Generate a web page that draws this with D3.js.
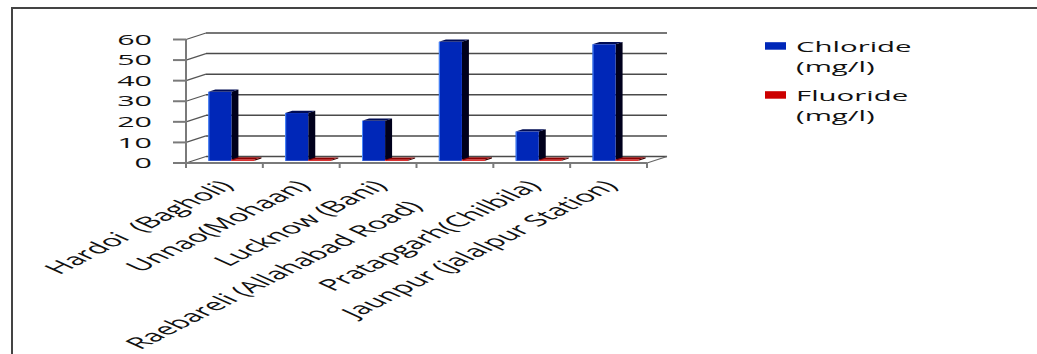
<!DOCTYPE html>
<html>
<head>
<meta charset="utf-8">
<script src="https://cdn.jsdelivr.net/npm/d3@7"></script>
<style>
  html, body { margin: 0; padding: 0; background: #fff; }
  svg { display: block; }
  text { font-family: "Open Sans", "Noto Sans", sans-serif; fill: #111; white-space: pre; }
</style>
</head>
<body>
<svg id="chart" width="1037" height="354"></svg>
<script>
// ---- data ----
const categories = [
  "Hardoi  (Bagholi)",
  "Unnao(Mohaan)",
  "Lucknow (Bani)",
  "Raebareli (Allahabad Road)       ",
  "Pratapgarh(Chilbila)",
  "Jaunpur (jalalpur Station)"
];
const chloride = [33.5, 23.2, 19.4, 57.8, 14.2, 56.6];
const fluoride = [0.6, 0.5, 0.5, 0.6, 0.5, 0.6];
const seriesNames = ["Chloride", "Fluoride"];
const seriesUnits = ["(mg/l)", "(mg/l)"];
const yTicks = [0, 10, 20, 30, 40, 50, 60];

// ---- layout ----
const svg = d3.select("#chart");
const K = 2.1;              // horizontal stretch of all text
const FS = 14;
const FS_CAT = 15.7;
const x0 = 186, x1 = 647;   // front floor line
const depthX = 20, depthY = -6.5;
const yScale = d3.scaleLinear().domain([0, 60]).range([163, 39.5]);
const xBand = d3.scaleBand().domain(categories).range([x0, x1]).paddingInner(0.4).paddingOuter(0.2);
const xInner = d3.scaleBand().domain(seriesNames).range([0, xBand.bandwidth()]);
const barDX = 7, barDY = -2.2;       // front plane of bars
const bdX = 7, bdY = -2.3;           // bar depth

// outer frame
svg.append("line").attr("x1", 12).attr("x2", 12).attr("y1", 8).attr("y2", 354)
  .attr("stroke", "#444").attr("stroke-width", 2);
svg.append("line").attr("x1", 11).attr("x2", 1037).attr("y1", 8).attr("y2", 8)
  .attr("stroke", "#444").attr("stroke-width", 2);

// back wall gridlines
const grid = svg.append("g");
yTicks.forEach(t => {
  const y = yScale(t);
  grid.append("line")
    .attr("x1", x0 + depthX).attr("x2", x1 + depthX)
    .attr("y1", y + depthY).attr("y2", y + depthY)
    .attr("stroke", "#4a4a4a").attr("stroke-width", 1.5);
  grid.append("line")
    .attr("x1", x0).attr("y1", y).attr("x2", x0 + depthX).attr("y2", y + depthY)
    .attr("stroke", "#555").attr("stroke-width", 1.3);
});
// floor right diagonal
grid.append("line").attr("x1", x1).attr("y1", yScale(0)).attr("x2", x1 + depthX).attr("y2", yScale(0) + depthY)
  .attr("stroke", "#666").attr("stroke-width", 1.3);

// bars
function bar3d(g, x, w, v, cFront, cTop, cSide, cEdge) {
  const yb = yScale(0) + barDY, yt = yScale(v) + barDY;
  g.append("path").attr("d", `M${x + w},${yt} L${x + w + bdX},${yt + bdY} L${x + w + bdX},${yb + bdY} L${x + w},${yb} Z`).attr("fill", cSide);
  g.append("path").attr("d", `M${x},${yt} L${x + bdX},${yt + bdY} L${x + w + bdX},${yt + bdY} L${x + w},${yt} Z`).attr("fill", cTop);
  g.append("rect").attr("x", x).attr("y", yt).attr("width", w).attr("height", Math.max(0.8, yb - yt)).attr("fill", cFront);
  g.append("line").attr("x1", x + 0.5).attr("x2", x + 0.5).attr("y1", yt).attr("y2", yb).attr("stroke", cEdge).attr("stroke-width", 1);
}
const bars = svg.append("g");
categories.forEach((c, i) => {
  const gx = xBand(c) + barDX;
  bar3d(bars, gx + xInner("Chloride"), xInner.bandwidth(), chloride[i], "#0027b8", "#000c55", "#00001c", "#4d8dff");
  bar3d(bars, gx + xInner("Fluoride"), xInner.bandwidth(), fluoride[i], "#d40000", "#8c0000", "#3a0000", "#ff5050");
});

// front axes
const ax = svg.append("g").attr("stroke", "#7a7a7a").attr("stroke-width", 2);
ax.append("line").attr("x1", x0).attr("x2", x0).attr("y1", yScale(60)).attr("y2", yScale(0) + 4);
ax.append("line").attr("x1", x0).attr("x2", x1).attr("y1", yScale(0)).attr("y2", yScale(0));
yTicks.forEach(t => {
  ax.append("line").attr("x1", x0 - 13).attr("x2", x0).attr("y1", yScale(t)).attr("y2", yScale(t));
});
const catTicks = categories.map(c => xBand(c) - xBand.step() * xBand.paddingInner() / 2);
catTicks.concat([x1]).forEach(x => {
  ax.append("line").attr("x1", x).attr("x2", x).attr("y1", yScale(0)).attr("y2", yScale(0) + 5);
});

// y tick labels
const yl = svg.append("g");
yTicks.forEach(t => {
  yl.append("text")
    .attr("transform", `translate(152,${yScale(t)}) scale(${K},1)`)
    .attr("text-anchor", "end").attr("dy", "0.36em")
    .attr("font-size", FS + 0.5).text(t);
});

// category labels
const xl = svg.append("g");
categories.forEach((c, i) => {
  const cx = xBand(c) + xBand.bandwidth() / 2 + 2;
  xl.append("text")
    .attr("transform", `translate(${cx},183) scale(${K},1) rotate(-46.5)`)
    .attr("text-anchor", "end").attr("dy", "0.35em")
    .attr("font-size", FS_CAT).text(c);
});

// legend
const colors = ["#0027b8", "#cc0000"];
const lg = svg.append("g");
seriesNames.forEach((s, i) => {
  const by = 51.7 + i * 49;
  lg.append("rect").attr("x", 765).attr("y", by - 9.5).attr("width", 21).attr("height", 7.5).attr("fill", colors[i]);
  lg.append("text").attr("transform", `translate(796,${by}) scale(${K},1)`).attr("font-size", FS).text(s);
  lg.append("text").attr("transform", `translate(796,${by + 20}) scale(${K},1)`).attr("font-size", FS).text(seriesUnits[i]);
});
</script>
</body>
</html>
